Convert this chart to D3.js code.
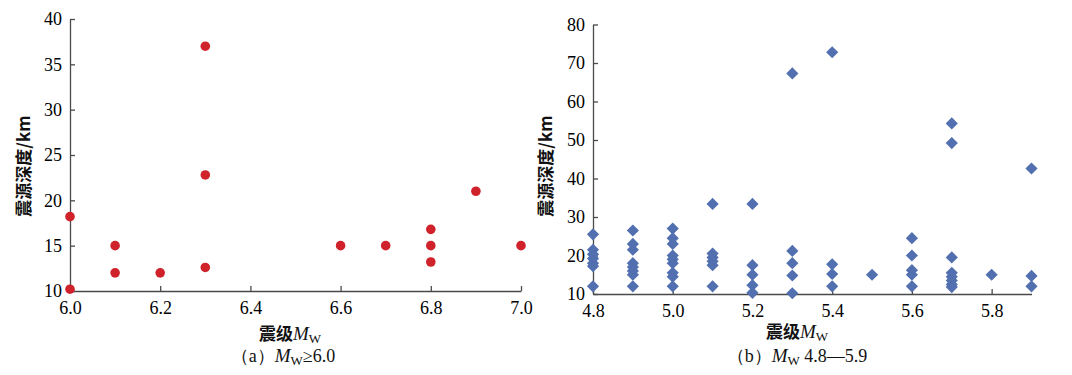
<!DOCTYPE html>
<html><head><meta charset="utf-8">
<script src="https://cdn.jsdelivr.net/npm/d3@7/dist/d3.min.js"></script>
<style>
body{margin:0;background:#fff}svg{display:block}
.serif{font-family:"Liberation Serif","DejaVu Serif",serif}
.cjk{font-family:"Noto Sans CJK SC","Noto Sans",sans-serif;font-weight:bold}
</style>
</head><body><svg id="c" width="1072" height="375"></svg>
<script>
// Panel (a): Mw >= 6.0
const magA   = [6.0, 6.0, 6.1, 6.1, 6.2, 6.3, 6.3, 6.3, 6.6, 6.7, 6.8, 6.8, 6.8, 6.9, 7.0];
const depthA = [18.2, 10.2, 15, 12, 12, 37, 22.8, 12.6, 15, 15, 16.8, 15, 13.2, 21, 15];
// Panel (b): Mw 4.8-5.9
const magB = [
  4.8,4.8,4.8,4.8,4.8,4.8,4.8,
  4.9,4.9,4.9,4.9,4.9,4.9,4.9,4.9,
  5.0,5.0,5.0,5.0,5.0,5.0,5.0,5.0,5.0,
  5.1,5.1,5.1,5.1,5.1,5.1,
  5.2,5.2,5.2,5.2,5.2,
  5.3,5.3,5.3,5.3,5.3,
  5.4,5.4,5.4,5.4,
  5.5,
  5.6,5.6,5.6,5.6,5.6,
  5.7,5.7,5.7,5.7,5.7,5.7,5.7,5.7,
  5.8,
  5.9,5.9,5.9
];
const depthB = [
  25.5,21.5,20.3,19.2,18,17.2,12,
  26.5,23,21.5,18,17,16,15,12,
  27,24.5,23,20,19,18,15.5,14.5,12,
  33.4,20.5,19.5,18.5,17.5,12,
  33.4,17.5,15,12.3,10.3,
  67.3,21.2,18,14.8,10.2,
  72.8,17.7,15.2,12,
  15,
  24.5,20,16.2,15,12,
  54.3,49.2,19.5,15.5,14.5,13.5,12.5,11.8,
  15,
  42.6,14.7,12
];
const ticksAX = [6.0, 6.2, 6.4, 6.6, 6.8, 7.0];
const ticksAY = [10, 15, 20, 25, 30, 35, 40];
const ticksBX = [4.8, 5.0, 5.2, 5.4, 5.6, 5.8];
const ticksBY = [10, 20, 30, 40, 50, 60, 70, 80];
const yTitle = "震源深度/km";

const svg = d3.select("#c");

function panel(opt) {
  const x = d3.scaleLinear().domain(opt.xd).range(opt.xr);
  const y = d3.scaleLinear().domain(opt.yd).range(opt.yr);
  const gx = svg.append("g").attr("transform", `translate(0,${opt.yr[0]})`)
    .call(d3.axisBottom(x).tickValues(opt.tx).tickFormat(d3.format(".1f"))
      .tickSizeInner(-5).tickSizeOuter(0).tickPadding(10));
  const gy = svg.append("g").attr("transform", `translate(${opt.xr[0]},0)`)
    .call(d3.axisLeft(y).tickValues(opt.ty).tickFormat(d3.format("d"))
      .tickSizeInner(-5).tickSizeOuter(0).tickPadding(8));
  [gx, gy].forEach(g => {
    g.attr("font-family", null).attr("font-size", null).attr("class", "serif");
    g.selectAll("path,line").attr("stroke", "#4a4a4a").attr("stroke-width", 1.3);
    g.selectAll("text").attr("class", "serif").style("font-size", "18px").attr("fill", "#000");
  });
  // y title
  svg.append("text").attr("class", "cjk")
    .attr("transform", `translate(${opt.ytx},${opt.yty}) rotate(-90)`)
    .attr("text-anchor", "middle").attr("dominant-baseline", "central")
    .style("font-size", "17px").attr("fill", "#111").text(yTitle);
  // x title
  const xt = svg.append("text").attr("x", opt.xtx).attr("y", opt.xty)
    .attr("text-anchor", "middle").attr("fill", "#111");
  xt.append("tspan").attr("class", "cjk").style("font-size", "17px").text("震级");
  xt.append("tspan").attr("class", "serif").style("font-style", "italic").style("font-size", "19px").text("M");
  xt.append("tspan").attr("class", "serif").style("font-size", "13px").attr("dy", 3).text("W");
  // subtitle
  const st = svg.append("text").attr("x", opt.stx).attr("y", opt.sty)
    .attr("text-anchor", "middle").attr("fill", "#111");
  st.append("tspan").attr("class", "serif").style("font-size", "18px").text(opt.sub[0]);
  st.append("tspan").attr("class", "serif").style("font-style", "italic").style("font-size", "19px").text("M");
  st.append("tspan").attr("class", "serif").style("font-size", "13px").attr("dy", 3).text("W");
  st.append("tspan").attr("class", "serif").attr("dy", -3).style("font-size", "18px").text(opt.sub[1]);
  return {x, y};
}

const A = panel({xd:[6.0,7.0], xr:[70,521], yd:[10,40], yr:[291,19], tx:ticksAX, ty:ticksAY,
  ytx:22, yty:166, xtx:290, xty:340, stx:283, sty:362, sub:["（a）", "≥6.0"]});
svg.append("g").selectAll("circle").data(magA).join("circle")
  .attr("cx", d => A.x(d)).attr("cy", (d,i) => A.y(depthA[i])).attr("r", 4.8)
  .attr("fill", "#d0222b");

const B = panel({xd:[4.8,5.9], xr:[593,1031.5], yd:[10,80], yr:[294,24.5], tx:ticksBX, ty:ticksBY,
  ytx:544, yty:166, xtx:797, xty:338, stx:797, sty:362, sub:["（b）", " 4.8—5.9"]});
const diamond = d3.symbol().type(d3.symbolSquare).size(74);
svg.append("g").selectAll("path").data(magB).join("path")
  .attr("d", diamond)
  .attr("transform", (d,i) => `translate(${B.x(d)},${B.y(depthB[i])}) rotate(45)`)
  .attr("fill", "#5270b0");
</script>
</body></html>
